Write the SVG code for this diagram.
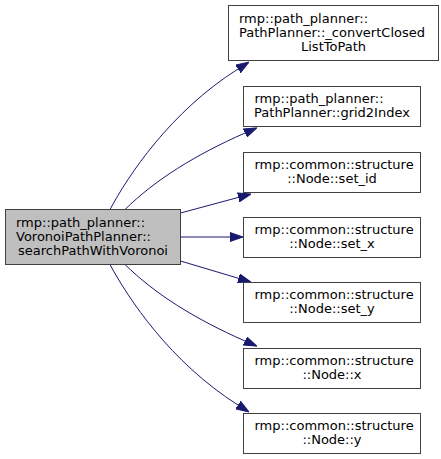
<svg xmlns="http://www.w3.org/2000/svg" width="441" height="459" viewBox="0 0 441 459">
<style>
.node rect{stroke:#404040;stroke-width:1;fill:#ffffff}
#n0 rect{fill:#bfbfbf}
text{font-family:"DejaVu Sans","Liberation Sans",sans-serif;font-size:13px;fill:#000000}
.m{text-anchor:middle}
.edges path{fill:none;stroke:#191970;stroke-width:1;marker-end:url(#arr)}
</style>
<defs>
<marker id="arr" viewBox="0 0 13 10" refX="0" refY="5" markerWidth="13" markerHeight="10" markerUnits="userSpaceOnUse" orient="auto">
<path d="M0,0.5 L13,5 L0,9.5 Z" fill="#191970" stroke="#191970" stroke-width="1"/>
</marker>
</defs>
<rect width="441" height="459" fill="#ffffff"/>
<g class="edges">
<path d="M110,209.5 C128,176 170,112 238,69"/>
<path d="M125,209.5 C155,180 195,155 245,133"/>
<path d="M180.5,213 L238.4,197.4"/>
<path d="M180.5,237 L230,237"/>
<path d="M180.5,261 L238.5,278.3"/>
<path d="M125,264.5 C155,294 195,319 245,341"/>
<path d="M110,264.5 C128,298 170,362 238,405"/>
</g>
<g id="n0" class="node">
<rect x="5.5" y="209.5" width="175" height="55"/>
<text x="16" y="226.5">rmp::path_planner::</text>
<text x="16" y="240.5">VoronoiPathPlanner::</text>
<text class="m" x="93" y="254.5">searchPathWithVoronoi</text>
</g>
<g id="n1" class="node">
<rect x="228.5" y="5.5" width="210" height="55"/>
<text x="239" y="22.5">rmp::path_planner::</text>
<text x="239" y="36.5">PathPlanner::_convertClosed</text>
<text class="m" x="333.5" y="50.5">ListToPath</text>
</g>
<g id="n2" class="node">
<rect x="243.5" y="86.5" width="177" height="40"/>
<text x="254.5" y="103">rmp::path_planner::</text>
<text class="m" x="332" y="117">PathPlanner::grid2Index</text>
</g>
<g id="n3" class="node">
<rect x="243.5" y="152.5" width="177" height="40"/>
<text x="254.5" y="169">rmp::common::structure</text>
<text class="m" x="332" y="183">::Node::set_id</text>
</g>
<g id="n4" class="node">
<rect x="243.5" y="217.5" width="177" height="40"/>
<text x="254.5" y="234">rmp::common::structure</text>
<text class="m" x="332" y="248">::Node::set_x</text>
</g>
<g id="n5" class="node">
<rect x="243.5" y="282.5" width="177" height="40"/>
<text x="254.5" y="299">rmp::common::structure</text>
<text class="m" x="332" y="313">::Node::set_y</text>
</g>
<g id="n6" class="node">
<rect x="243.5" y="348.5" width="177" height="40"/>
<text x="254.5" y="365">rmp::common::structure</text>
<text class="m" x="332" y="379">::Node::x</text>
</g>
<g id="n7" class="node">
<rect x="243.5" y="413.5" width="177" height="40"/>
<text x="254.5" y="430">rmp::common::structure</text>
<text class="m" x="332" y="444">::Node::y</text>
</g>
</svg>
